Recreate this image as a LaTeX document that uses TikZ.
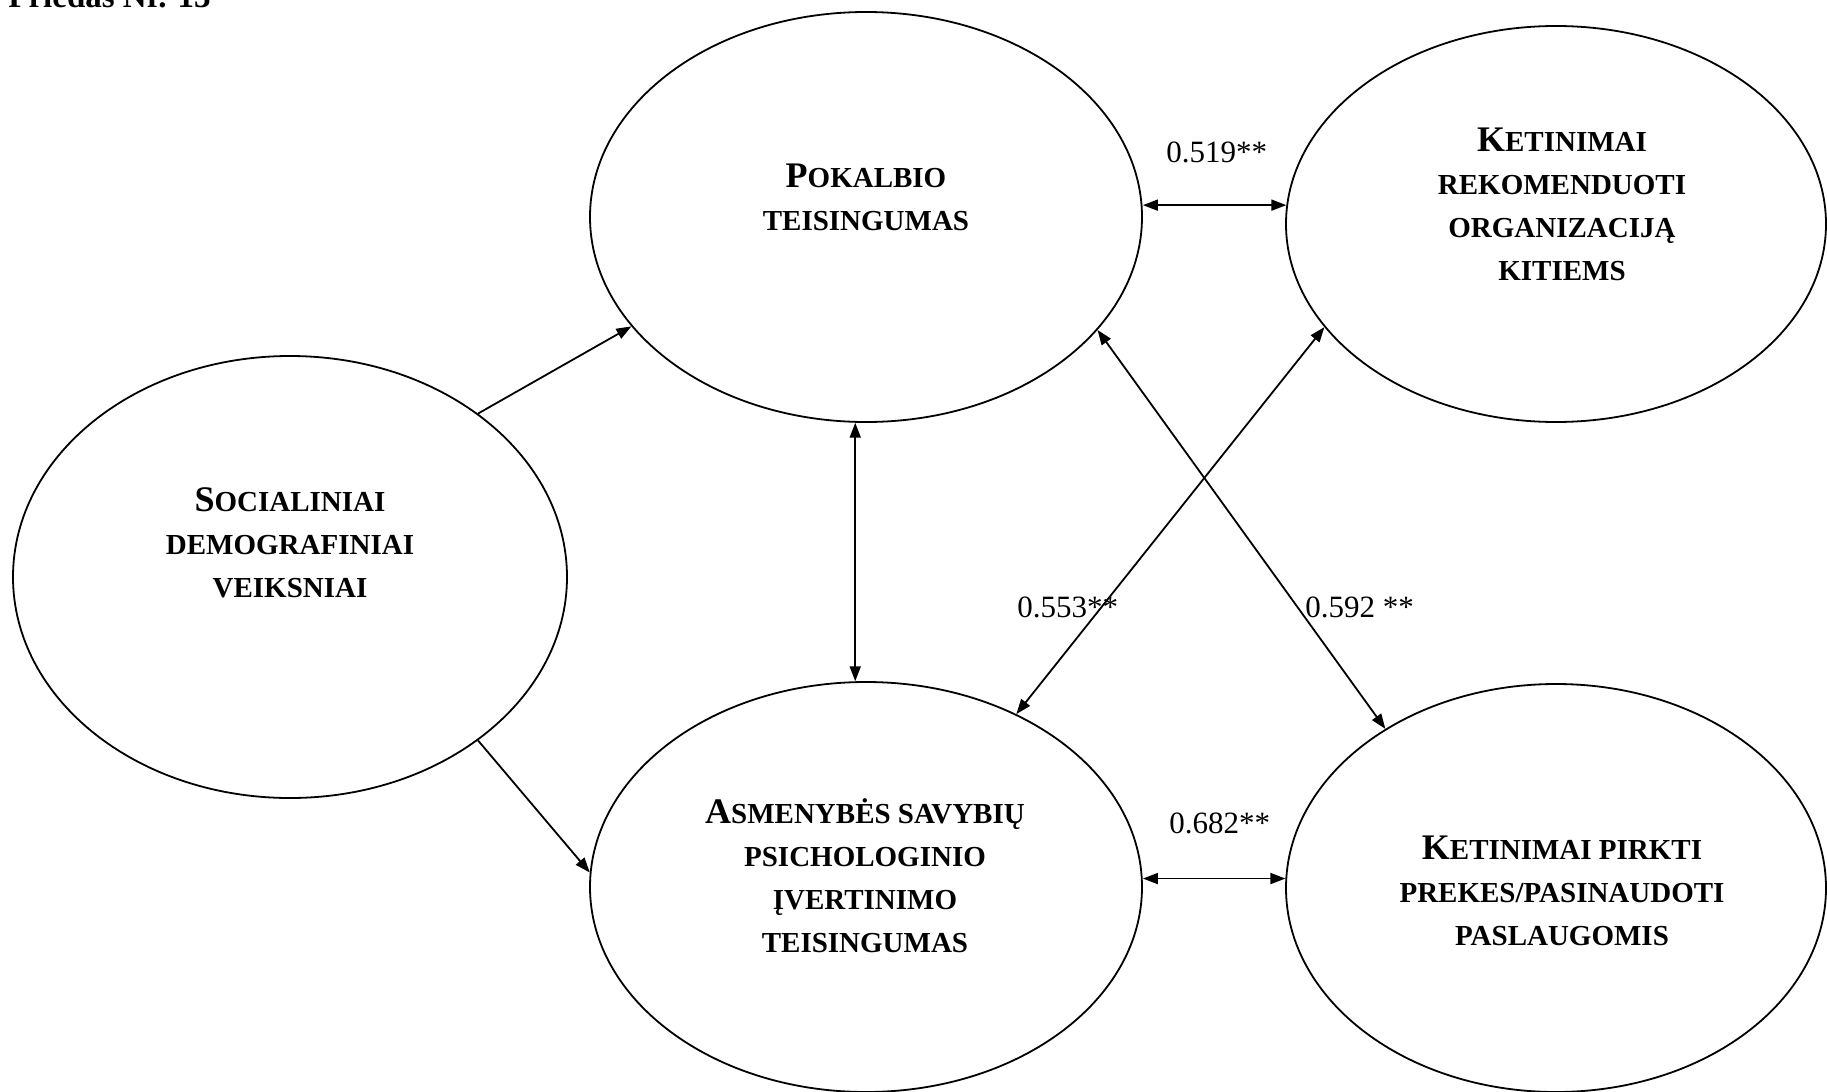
\documentclass[tikz,border=0pt]{standalone}
\usepackage{fontspec}
\setmainfont{Liberation Serif}
\usetikzlibrary{arrows.meta,shapes.geometric}
\newcommand\BigL[1]{{\fontsize{18}{21.5}\selectfont #1}}
\begin{document}
\begin{tikzpicture}[x=0.5pt,y=-0.5pt,
  ell/.style={draw, ellipse, line width=0.9pt, inner sep=0pt},
  lbl/.style={font=\fontsize{14.5}{21.5}\selectfont\bfseries, align=center, inner sep=0pt},
  num/.style={font=\fontsize{15.5}{18}\selectfont, inner sep=0pt, anchor=base west},
  tip/.tip={Triangle[length=7.5pt,width=5.5pt]},
  arr/.style={line width=0.9pt, -tip},
  conn/.style={line width=0.9pt, tip-tip}]
\useasboundingbox (0,0) rectangle (1827,1092);
\fill[white] (0,0) rectangle (1827,1092);
\node[font=\fontsize{16.5}{20}\selectfont\bfseries, anchor=base west, inner sep=0pt] (hdr) at (8,7) {Priedas Nr. 13};
% ellipses
\node[ell, minimum width=277pt, minimum height=221pt] (S) at (290,577) {};
\node[ell, minimum width=276pt, minimum height=205pt] (P) at (866,217) {};
\node[ell, minimum width=270pt, minimum height=198pt] (K1) at (1556,224) {};
\node[ell, minimum width=276pt, minimum height=205pt] (A) at (866,887) {};
\node[ell, minimum width=270pt, minimum height=204pt] (K2) at (1556,888) {};
% texts
\node[lbl] (St) at (290,542.5) {\BigL{S}OCIALINIAI\\DEMOGRAFINIAI\\VEIKSNIAI};
\node[lbl] (Pt) at (866,197.5) {\BigL{P}OKALBIO\\TEISINGUMAS};
\node[lbl] (K1t) at (1562,204.5) {\BigL{K}ETINIMAI\\REKOMENDUOTI\\ORGANIZACIJĄ\\KITIEMS};
\node[lbl] (At) at (865,875.5) {\BigL{A}SMENYBĖS SAVYBIŲ\\PSICHOLOGINIO\\ĮVERTINIMO\\TEISINGUMAS};
\node[lbl] (K2t) at (1562,890.5) {\BigL{K}ETINIMAI PIRKTI\\PREKES/PASINAUDOTI\\PASLAUGOMIS};
% connectors
\draw[arr] (S.41) -- (P.205);
\draw[arr] (S.319) -- (A.177);
\draw[conn] (P.267) -- (A.93);
\draw[conn] (P.east |- K1.176) -- (K1.176);
\draw[conn] (A.east |- K2.178) -- (K2.178);
\draw[conn] (K1.204) -- (A.49);
\draw[conn] (P.334) -- (K2.137);
% labels
\node[num] (l1) at (1166,162) {0.519**};
\node[num] (l2) at (1169,833) {0.682**};
\node[num] (l3) at (1017,617) {0.553**};
\node[num] (l4) at (1305,617) {0.592 **};
\end{tikzpicture}
\end{document}
